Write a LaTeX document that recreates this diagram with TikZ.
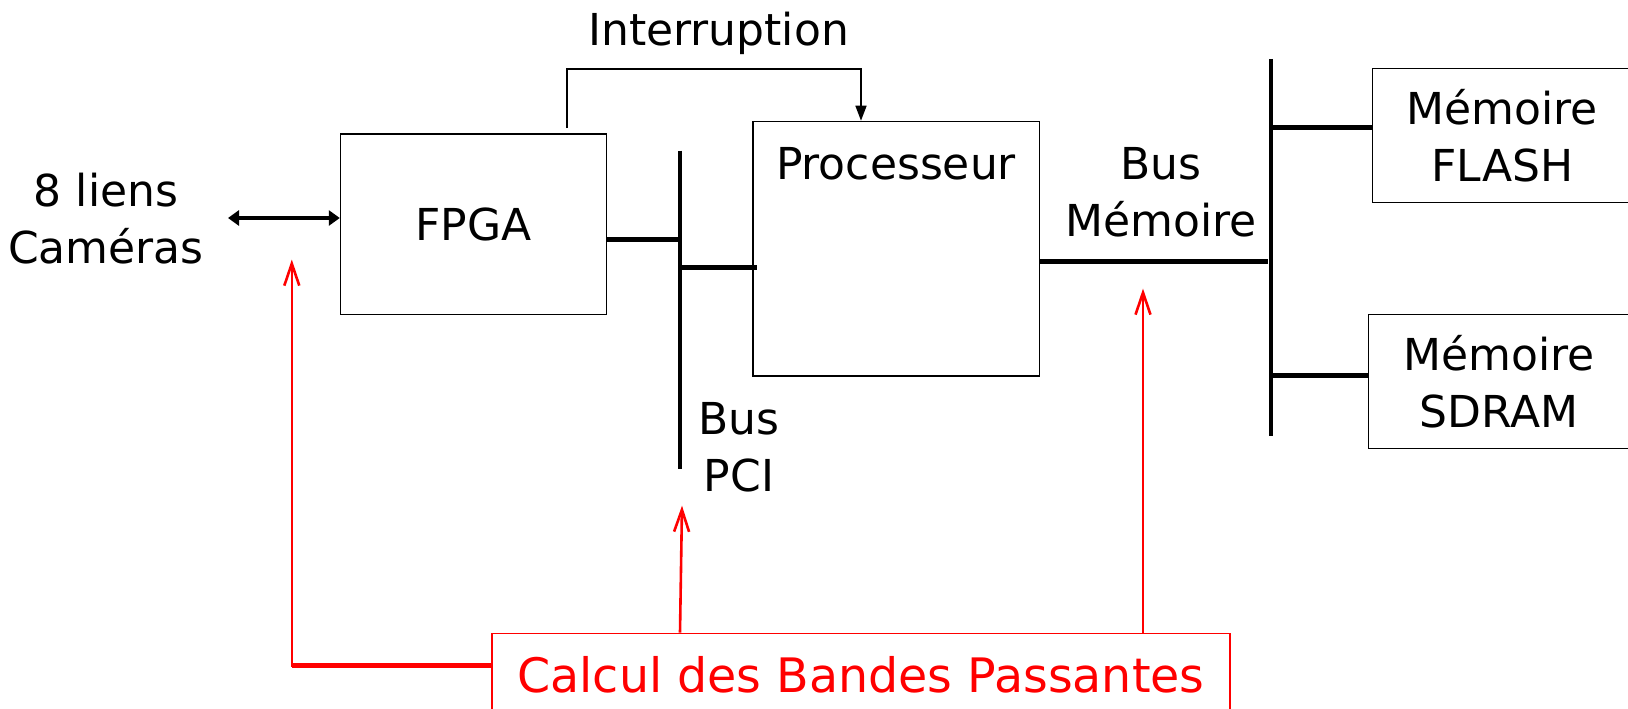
\documentclass[tikz,border=0pt]{standalone}
\usepackage{fontspec}
\setmainfont{DejaVu Sans}
\usetikzlibrary{arrows.meta,calc}
\begin{document}
\begin{tikzpicture}[x=1pt,y=-1pt,
  box/.style={draw,line width=1.6pt,inner sep=0pt},
  lbl/.style={font=\fontsize{44}{57}\selectfont,align=center,inner sep=0pt},
  redlbl/.style={font=\fontsize{47.5}{57}\selectfont,text=red,inner sep=0pt},
  bus/.style={line width=5pt},
  redline/.style={draw=red,line width=2.6pt},
  redtip/.style={-{Straight Barb[length=22pt,width=15pt,line width=2.6pt]}}
]
\useasboundingbox (0,0) rectangle (1628,709);
% boxes
\node[box,minimum width=265.8pt,minimum height=180.6pt,lbl] (fpga) at (473.5,224.3) {FPGA};
\node[box,minimum width=286.6pt,minimum height=254.4pt] (proc) at (896.1,248.7) {};
\node[lbl] (proclbl) at (896,164) {Processeur};
\node[box,minimum width=259.4pt,minimum height=134pt,lbl] (flash) at (1502.3,135.5) {Mémoire\\FLASH};
\node[box,minimum width=261pt,minimum height=134pt,lbl] (sdram) at (1499,381.5) {Mémoire\\SDRAM};
\node[box,draw=red,minimum width=738pt,minimum height=83.2pt,redlbl] (calc) at (861,675) {Calcul des Bandes Passantes};
% labels
\node[lbl] (cams) at (106,218.5) {8 liens\\Caméras};
\node[lbl] (intlbl) at (718.5,33) {Interruption};
\node[lbl] (pcilbl) at (739,447) {Bus\\PCI};
\node[lbl] (memlbl) at (1161,192) {Bus\\Mémoire};
% buses
\coordinate (pcitop) at (680,150.5);
\coordinate (pcibot) at (680,469);
\coordinate (memtop) at (1271,59);
\coordinate (membot) at (1271,436);
\draw[line width=4.2pt] (pcitop) -- (pcibot);
\draw[line width=4.2pt] (memtop) -- (membot);
\coordinate (pciA) at (680,239);
\coordinate (pciB) at (680,267);
\coordinate (memA) at (1268,261.7);
\coordinate (memF) at (1271,127.7);
\coordinate (memS) at (1271,375.9);
\draw[bus] (fpga.east |- pciA) -- (pciA);
\draw[bus] (pciB) -- ([xshift=5pt]proc.west |- pciB);
\draw[bus] (proc.east |- memA) -- (memA);
\draw[bus] (memF) -- (flash.west |- memF);
\draw[bus] (memS) -- (sdram.west |- memS);
% interruption
\coordinate (intA) at (567,128);
\coordinate (intB) at (567,69);
\coordinate (intC) at (861,69);
\draw[line width=1.6pt,-{Triangle[length=15pt,width=11pt]}] (intA) -- (intB) -- (intC) -- (intC |- proc.north);
% camera link
\coordinate (camA) at (228,218);
\draw[line width=4pt,{Triangle[length=11pt,width=15pt]}-{Triangle[length=11pt,width=15pt]}] (camA) -- (fpga.west |- camA);
% red arrows
\coordinate (rL) at (291.8,259.6);
\coordinate (rM) at (682,505.7);
\coordinate (rR) at (1143,288.6);
\draw[redline,redtip] ([yshift=9.5pt]calc.west) -| (rL);
\draw[draw=red,line width=4.2pt] ([yshift=9.5pt]calc.west) -- ([yshift=9.5pt]calc.west -| rL);
\draw[redline,redtip] (calc.north -| 680,0) -- (rM);
\draw[redline,redtip] (calc.north -| rR) -- (rR);
\end{tikzpicture}
\end{document}
